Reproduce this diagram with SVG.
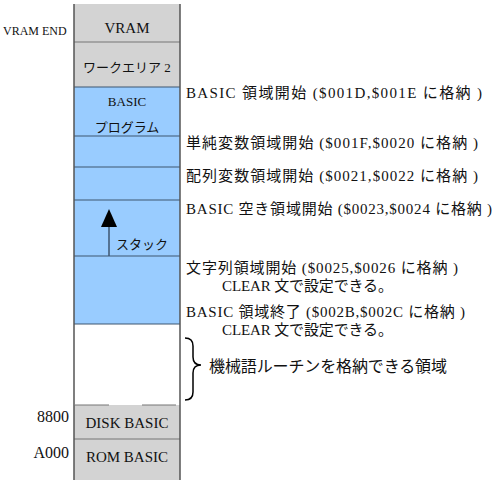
<svg xmlns="http://www.w3.org/2000/svg" width="500" height="484" viewBox="0 0 500 484">
<style>
text{font-family:"Liberation Serif","Noto Sans CJK JP",serif;fill:#111}
.g{fill:#d3d3d3}
.b{fill:#99ccff}
.w{fill:#ffffff}
.lg{stroke:#777;stroke-width:1.2}
.lb{stroke:#3e5670;stroke-width:1.2}
.edge{stroke:#555;stroke-width:1.5}
.c{text-anchor:middle}
.r{font-size:15px}
</style>
<rect width="500" height="484" fill="#fff"/>
<g id="vram"><rect class="g" x="74" y="4" width="106" height="38"/><text class="c" x="127" y="33" font-size="15">VRAM</text></g>
<g id="work2"><rect class="g" x="74" y="42" width="106" height="45"/><text class="c" x="127" y="72" font-size="13">ワークエリア 2</text></g>
<g id="program"><rect class="b" x="74" y="87" width="106" height="49"/><text class="c" x="127" y="106" font-size="13">BASIC</text><text class="c" x="127" y="132" font-size="13">プログラム</text></g>
<g id="simplevar"><rect class="b" x="74" y="136" width="106" height="31"/></g>
<g id="arrayvar"><rect class="b" x="74" y="167" width="106" height="33"/></g>
<g id="stack"><rect class="b" x="74" y="200" width="106" height="56"/><text x="116" y="249" font-size="13">スタック</text></g>
<g id="string"><rect class="b" x="74" y="256" width="106" height="68"/></g>
<g id="free"><rect class="w" x="74" y="324" width="106" height="81"/></g>
<g id="disk"><rect class="g" x="74" y="405" width="106" height="34"/><text class="c" x="127" y="428" font-size="15">DISK BASIC</text></g>
<g id="rom"><rect class="g" x="74" y="439" width="106" height="41"/><text class="c" x="127" y="462" font-size="15">ROM BASIC</text></g>
<g id="lines" fill="none">
<line class="lg" x1="74" y1="42" x2="180" y2="42"/>
<line class="lb" x1="74" y1="87" x2="180" y2="87"/>
<line class="lb" x1="74" y1="136" x2="180" y2="136"/>
<line class="lb" x1="74" y1="167" x2="180" y2="167"/>
<line class="lb" x1="74" y1="200" x2="180" y2="200"/>
<line class="lb" x1="74" y1="256" x2="180" y2="256"/>
<line class="lb" x1="74" y1="324" x2="180" y2="324"/>
<line class="lg" x1="75" y1="405" x2="109" y2="405"/>
<line class="lg" x1="142" y1="405" x2="176" y2="405"/>
<line class="lg" x1="74" y1="439" x2="180" y2="439"/>
<line class="edge" x1="74" y1="4" x2="74" y2="480"/>
<line class="edge" x1="180" y1="4" x2="180" y2="480"/>
</g>
<g id="connectors">
<line x1="109" y1="256" x2="109" y2="226" stroke="#3e5670" stroke-width="1.5"/>
<polygon points="109,209 101,227 117,227" fill="#000"/>
<path d="M185,338 Q193,338 193,346 L193,357 Q193,365 201,365 Q193,365 193,373 L193,392 Q193,400 185,400" fill="none" stroke="#000" stroke-width="1.5"/>
</g>
<g id="labels">
<text x="3" y="35" font-size="12">VRAM END</text>
<text x="69" y="422" font-size="16" text-anchor="end">8800</text>
<text x="69" y="458" font-size="16" text-anchor="end">A000</text>
<text class="r" x="186" y="98" textLength="296">BASIC 領域開始 ($001D,$001E に格納 )</text>
<text class="r" x="186" y="148" textLength="292">単純変数領域開始 ($001F,$0020 に格納 )</text>
<text class="r" x="186" y="181" textLength="292">配列変数領域開始 ($0021,$0022 に格納 )</text>
<text class="r" x="186" y="214" textLength="306">BASIC 空き領域開始 ($0023,$0024 に格納 )</text>
<text class="r" x="186" y="273" textLength="272">文字列領域開始 ($0025,$0026 に格納 )</text>
<text class="r" x="222" y="291" textLength="171">CLEAR 文で設定できる。</text>
<text class="r" x="186" y="317" textLength="279">BASIC 領域終了 ($002B,$002C に格納 )</text>
<text class="r" x="222" y="335" textLength="171">CLEAR 文で設定できる。</text>
<text x="209" y="372" font-size="16" textLength="238">機械語ルーチンを格納できる領域</text>
</g>
</svg>
